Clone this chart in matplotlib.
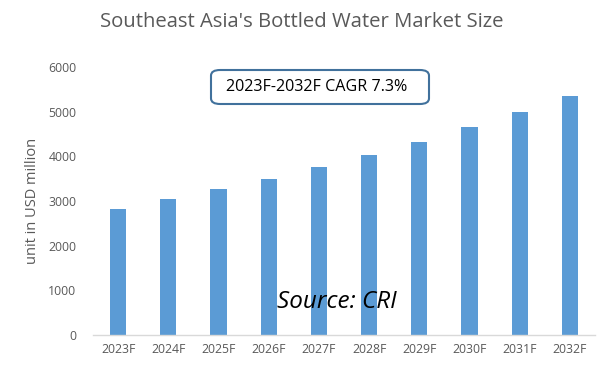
import matplotlib
matplotlib.use("Agg")
import matplotlib.pyplot as plt
from matplotlib.patches import FancyBboxPatch

categories = ["2023F", "2024F", "2025F", "2026F", "2027F", "2028F", "2029F", "2030F", "2031F", "2032F"]
values = [2820, 3045, 3265, 3490, 3760, 4025, 4320, 4655, 4990, 5350]
yticks = [0, 1000, 2000, 3000, 4000, 5000, 6000]

plt.rcParams['font.family'] = ['Open Sans', 'DejaVu Sans']

fig = plt.figure(figsize=(6.1, 3.73), dpi=100)
ax = fig.add_axes([93/610, 38/373, (595-93)/610, (335-67)/373])

x = list(range(len(categories)))
ax.bar(x, values, width=0.32, color="#5B9BD5", zorder=2)
ax.set_xlim(-0.5, len(categories) - 0.5)
ax.set_ylim(0, 6000)
ax.set_yticks(yticks)
ax.set_yticklabels([str(t) for t in yticks])
ax.set_xticks(x)
ax.set_xticklabels(categories)
ax.tick_params(axis='both', length=0, labelsize=8.8, colors="#595959")
ax.tick_params(axis='y', pad=12)
ax.tick_params(axis='x', pad=6)
for s in ["top", "right", "left"]:
    ax.spines[s].set_visible(False)
ax.spines["bottom"].set_color("#D9D9D9")
ax.spines["bottom"].set_linewidth(1)

ax.set_ylabel("unit in USD million", fontsize=10.5, color="#595959", labelpad=6)

fig.text(302/610, 1 - 22/373, "Southeast Asia's Bottled Water Market Size",
         ha="center", va="center", fontsize=14.6, color="#595959")

box = FancyBboxPatch((211/610, 1 - 104/373), (429-211)/610, (104-70)/373,
                     boxstyle="round,pad=0,rounding_size=0.015",
                     transform=fig.transFigure, facecolor="white",
                     edgecolor="#41719C", linewidth=1.5, zorder=5)
fig.patches.append(box)
fig.text(317/610, 1 - 87/373, "2023F-2032F CAGR 7.3%", ha="center", va="center",
         fontsize=11.6, color="black", zorder=6)

fig.text(337/610, 1 - 302/373, "Source: CRI", ha="center", va="center",
         fontsize=17.5, style="italic", color="black", zorder=6)

fig.savefig("out.png", dpi=100)
